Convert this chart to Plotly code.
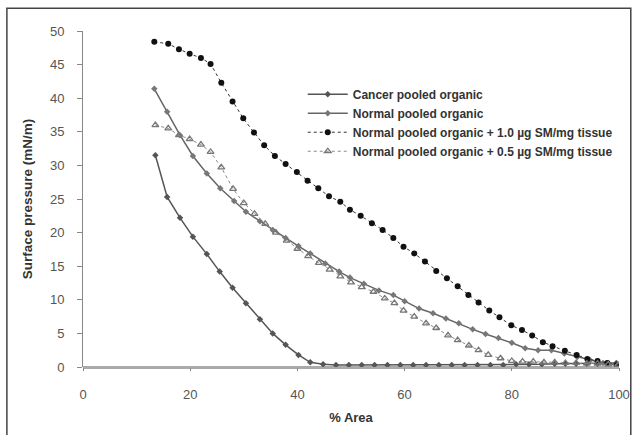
import plotly.graph_objects as go

# Cancer pooled organic
cancer_x = [13.5, 15.7, 18.1, 20.5, 23.1, 25.5, 27.9, 30.4, 33.0, 35.4, 37.8, 40.2, 42.4,
            44.8, 47.2, 49.6, 52.0, 54.4, 56.8, 59.2, 61.6, 64.0, 66.4, 68.8, 71.2, 73.6,
            76.0, 78.4, 80.8, 83.2, 85.6, 88.0, 90.0, 92.0, 94.0, 96.0, 98.0, 99.5]
cancer_y = [31.5, 25.3, 22.2, 19.4, 16.8, 14.2, 11.8, 9.5, 7.1, 5.0, 3.3, 1.8, 0.7,
            0.4, 0.3, 0.3, 0.3, 0.3, 0.3, 0.3, 0.3, 0.3, 0.3, 0.3, 0.3, 0.3,
            0.3, 0.3, 0.4, 0.4, 0.4, 0.5, 0.5, 0.5, 0.5, 0.5, 0.6, 0.6]

# Normal pooled organic
normal_x = [13.3, 15.7, 18.1, 20.5, 23.1, 25.6, 28.2, 30.4, 33.0, 35.4, 37.8, 40.2, 42.4,
            45.2, 47.8, 49.8, 52.4, 55.2, 57.9, 60.0, 62.7, 65.3, 67.7, 70.1, 72.7, 75.1,
            77.5, 80.0, 82.5, 84.9, 87.4, 89.8, 92.2, 94.6, 97.0, 99.5]
normal_y = [41.4, 38.0, 34.5, 31.4, 28.8, 26.6, 24.7, 23.1, 21.7, 20.4, 19.2, 18.0, 16.9,
            15.4, 14.2, 13.3, 12.4, 11.4, 10.7, 9.8, 8.7, 8.0, 7.2, 6.5, 5.6, 4.9,
            4.3, 3.6, 2.8, 2.5, 2.5, 2.0, 1.5, 1.0, 0.6, 0.3]

# Normal pooled organic + 1.0 ug SM/mg tissue
sm10_x = [13.3, 15.9, 17.9, 19.9, 22.0, 23.8, 25.8, 27.9, 29.9, 31.9, 33.8, 35.8, 37.8,
          39.9, 41.9, 43.9, 45.9, 48.0, 49.8, 51.8, 53.9, 55.9, 57.9, 59.8, 61.8, 63.8,
          65.9, 67.9, 69.9, 71.9, 73.8, 75.8, 77.7, 79.9, 81.9, 83.8, 85.8, 87.6, 89.9,
          92.1, 94.1, 96.0, 97.8, 99.6]
sm10_y = [48.4, 48.1, 47.3, 46.6, 46.0, 45.1, 42.3, 39.5, 37.0, 34.9, 33.0, 31.4, 30.2,
          29.0, 27.7, 26.6, 25.4, 24.6, 23.4, 22.5, 21.4, 20.4, 19.2, 17.9, 16.9, 15.7,
          14.3, 13.2, 12.0, 10.7, 9.6, 8.4, 7.4, 6.2, 5.5, 4.7, 3.7, 3.1, 2.4,
          1.8, 1.2, 0.9, 0.6, 0.3]

# Normal pooled organic + 0.5 ug SM/mg tissue
sm05_x = [13.5, 15.9, 17.9, 19.9, 22.0, 23.8, 25.8, 28.0, 30.0, 32.0, 34.0, 36.0, 38.0,
          40.0, 42.0, 44.0, 46.0, 48.0, 50.0, 52.0, 54.2, 56.3, 58.1, 59.8, 61.8, 64.0,
          65.9, 68.1, 69.9, 72.0, 73.8, 75.6, 77.9, 80.0, 82.0, 84.0, 86.0, 88.0, 90.0,
          92.0, 94.0, 96.0, 98.0, 99.8]
sm05_y = [36.0, 35.5, 34.5, 33.9, 33.1, 32.0, 29.7, 26.5, 24.4, 22.8, 21.3, 20.0, 18.8,
          17.6, 16.5, 15.5, 14.5, 13.5, 12.6, 11.9, 11.2, 10.2, 9.5, 8.4, 7.5, 6.5,
          5.8, 4.7, 4.0, 3.2, 2.5, 1.8, 1.3, 0.9, 0.8, 0.8, 0.7, 0.7, 0.6,
          0.6, 0.5, 0.5, 0.4, 0.3]

names = ["Cancer pooled organic",
         "Normal pooled organic",
         "Normal pooled organic + 1.0 µg SM/mg tissue",
         "Normal pooled organic + 0.5 µg SM/mg tissue"]

x_ticks = [0, 20, 40, 60, 80, 100]
y_ticks = [0, 5, 10, 15, 20, 25, 30, 35, 40, 45, 50]

fig = go.Figure()
fig.add_trace(go.Scatter(x=cancer_x, y=cancer_y, name=names[0], mode="lines+markers",
                         line=dict(color="#555555", width=1.5),
                         marker=dict(symbol="diamond", size=5, color="#555555")))
fig.add_trace(go.Scatter(x=normal_x, y=normal_y, name=names[1], mode="lines+markers",
                         line=dict(color="#666666", width=1.5),
                         marker=dict(symbol="diamond", size=5, color="#777777")))
fig.add_trace(go.Scatter(x=sm10_x, y=sm10_y, name=names[2], mode="lines+markers",
                         line=dict(color="#333333", width=1, dash="dot"),
                         marker=dict(symbol="circle", size=6, color="#111111")))
fig.add_trace(go.Scatter(x=sm05_x, y=sm05_y, name=names[3], mode="lines+markers",
                         line=dict(color="#888888", width=1, dash="dot"),
                         marker=dict(symbol="triangle-up-open", size=6, color="#777777",
                                     line=dict(width=1.3))))

fig.add_shape(type="rect", xref="paper", yref="paper",
              x0=-0.142, x1=1.022, y0=-0.22, y1=1.068,
              line=dict(color="#444444", width=1.5), fillcolor="rgba(0,0,0,0)", layer="below")

fig.update_layout(
    width=642, height=435,
    margin=dict(l=83, r=17, t=31, b=66),
    paper_bgcolor="white", plot_bgcolor="white",
    font=dict(family="Liberation Sans, Arial, sans-serif", color="#444444", size=12),
    showlegend=True,
    legend=dict(x=0.41, y=0.855, xanchor="left", yanchor="top",
                font=dict(size=12, color="#333333", weight="bold"), bgcolor="rgba(0,0,0,0)",
                tracegroupgap=0, itemwidth=40),
    xaxis=dict(range=[0, 100], tickvals=x_ticks, showgrid=False, zeroline=False,
               showline=False, ticks="outside", ticklen=3, tickcolor="#888888",
               ticklabelstandoff=12,
               tickfont=dict(size=13, color="#555555"),
               title=dict(text="<b>% Area</b>", font=dict(size=13, color="#333333"), standoff=12)),
    yaxis=dict(range=[0, 50], tickvals=y_ticks, showgrid=False,
               zeroline=True, zerolinecolor="#aaaaaa", zerolinewidth=3,
               showline=True, linecolor="#888888", linewidth=1,
               ticks="outside", ticklen=5, tickcolor="#888888",
               ticklabelstandoff=10,
               tickfont=dict(size=13, color="#555555"),
               title=dict(text="<b>Surface pressure (mN/m)</b>", font=dict(size=13.5, color="#333333"), standoff=14)),
)

fig.write_html("out.html")
